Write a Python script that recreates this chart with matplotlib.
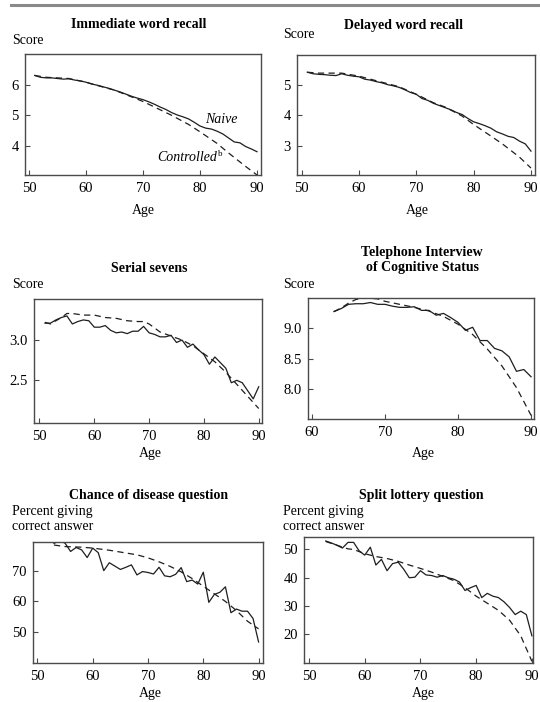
import matplotlib
matplotlib.use("Agg")
import matplotlib.pyplot as plt
from matplotlib.lines import Line2D

plt.rcParams["font.family"] = ["Liberation Serif", "DejaVu Serif"]
plt.rcParams["font.size"] = 10

W, H = 540, 702

# ---- values ----
ages_51 = list(range(51, 91))
ages_53 = list(range(53, 91))
ages_63 = list(range(63, 91))

imm_naive = [6.30, 6.24, 6.22, 6.22, 6.20, 6.18, 6.19, 6.15, 6.12, 6.08,
             6.02, 5.98, 5.93, 5.88, 5.82, 5.76, 5.69, 5.62, 5.56, 5.51,
             5.44, 5.36, 5.27, 5.19, 5.09, 5.01, 4.95, 4.88, 4.77, 4.65,
             4.58, 4.55, 4.48, 4.39, 4.26, 4.13, 4.10, 3.98, 3.90, 3.81]
imm_ctrl_age = [51, 53, 55, 57, 60, 63, 65, 68, 70, 73, 75, 78, 80, 83, 85, 88, 90]
imm_ctrl = [6.30, 6.24, 6.22, 6.20, 6.08, 5.92, 5.82, 5.60, 5.45, 5.18,
            5.00, 4.70, 4.46, 4.08, 3.77, 3.33, 3.05]

del_naive = [5.43, 5.38, 5.36, 5.35, 5.33, 5.32, 5.38, 5.33, 5.30, 5.28,
             5.20, 5.17, 5.12, 5.08, 5.02, 4.98, 4.93, 4.85, 4.76, 4.70,
             4.56, 4.50, 4.40, 4.33, 4.26, 4.19, 4.10, 4.03, 3.90, 3.79,
             3.73, 3.66, 3.58, 3.46, 3.39, 3.31, 3.27, 3.15, 3.06, 2.82]
del_ctrl_age = [51, 53, 55, 57, 60, 63, 65, 67, 70, 73, 75, 78, 80, 83, 85, 88, 90]
del_ctrl = [5.43, 5.40, 5.40, 5.40, 5.30, 5.15, 5.05, 4.95, 4.70, 4.42,
            4.28, 3.98, 3.70, 3.32, 3.06, 2.62, 2.26]

ser_naive = [3.21, 3.21, 3.25, 3.28, 3.30, 3.20, 3.23, 3.25, 3.24, 3.16,
             3.16, 3.18, 3.12, 3.09, 3.10, 3.08, 3.11, 3.11, 3.17, 3.09,
             3.07, 3.04, 3.04, 3.06, 2.97, 3.00, 2.91, 2.95, 2.88, 2.82,
             2.70, 2.79, 2.72, 2.65, 2.47, 2.50, 2.47, 2.37, 2.27, 2.42]
ser_ctrl_age = [51, 52, 53, 54, 55, 56, 58, 60, 62, 64, 66, 68, 69, 70, 72,
                74, 76, 78, 80, 82, 84, 86, 88, 90]
ser_ctrl = [3.22, 3.20, 3.24, 3.28, 3.33, 3.33, 3.31, 3.31, 3.28, 3.27, 3.24,
            3.23, 3.23, 3.20, 3.10, 3.05, 3.00, 2.93, 2.83, 2.73, 2.60, 2.45,
            2.30, 2.15]

tics_naive = [9.28, 9.33, 9.40, 9.41, 9.41, 9.43, 9.40, 9.40,
              9.37, 9.35, 9.35, 9.36, 9.30, 9.30, 9.22, 9.25, 9.18, 9.10,
              8.97, 9.02, 8.80, 8.80, 8.67, 8.63, 8.53, 8.29, 8.32, 8.20]
tics_ctrl_age = [63, 64, 65, 66, 67, 68, 69, 70, 72, 74, 76, 78, 80, 82, 84, 86, 88, 90]
tics_ctrl = [9.28, 9.34, 9.42, 9.48, 9.50, 9.50, 9.49, 9.45, 9.40, 9.35,
             9.29, 9.20, 9.07, 8.90, 8.66, 8.38, 8.02, 7.56]

dis_naive = [79.0, 80.0, 79.1, 76.4, 77.7, 76.9, 74.4, 77.5,
             76.0, 70.1, 72.7, 71.6, 70.5, 71.2, 72.0, 68.7, 69.8, 69.5,
             69.0, 71.2, 68.4, 68.1, 68.9, 71.1, 66.5, 67.0, 65.7, 69.6,
             59.7, 62.3, 63.0, 64.8, 56.3, 57.5, 56.8, 56.8, 54.4, 46.7]
dis_ctrl_age = [53, 55, 58, 60, 63, 65, 68, 70, 72, 74, 76, 78, 80, 82, 84, 86, 88, 90]
dis_ctrl = [78.5, 78.0, 77.8, 77.5, 76.8, 76.2, 75.3, 74.3, 73.0, 71.5,
            69.7, 67.5, 65.0, 62.5, 60.0, 57.0, 53.5, 51.0]

lot_naive = [53.0, 52.3, 51.5, 50.5, 52.5, 52.5, 49.5, 48.0,
             50.8, 44.5, 46.5, 42.5, 45.0, 45.5, 43.0, 40.0, 40.2, 42.5,
             41.0, 40.8, 40.2, 40.8, 40.0, 39.5, 38.5, 35.5, 36.5, 37.3,
             33.0, 34.5, 33.5, 33.0, 31.5, 29.5, 27.0, 28.2, 27.0, 19.5]
lot_ctrl_age = [53, 55, 57, 58, 60, 62, 64, 66, 68, 70, 72, 74, 76, 78, 80,
                82, 84, 86, 88, 89, 90]
lot_ctrl = [52.8, 51.5, 50.2, 50.0, 48.5, 47.5, 46.8, 45.8, 44.5, 43.3, 42.0,
            40.5, 39.0, 36.5, 33.5, 31.0, 28.5, 25.0, 19.5, 15.0, 10.5]

# ---- layout (pixel boxes: left, top, right, bottom) ----
panels = [
    dict(box=(25, 54, 261, 175), xlim=(49.3, 90.7), ylim=(3.05, 7.0),
         xt=[50, 60, 70, 80, 90], yt=[4, 5, 6], fmt="{:.0f}",
         title=[("Immediate word recall", 139, 25)], ylab=[("Score", 12, 41)],
         age=(143, 210), naive=(ages_51, imm_naive), ctrl=(imm_ctrl_age, imm_ctrl)),
    dict(box=(297, 55, 535, 175), xlim=(49.2, 90.7), ylim=(2.03, 6.0),
         xt=[50, 60, 70, 80, 90], yt=[3, 4, 5], fmt="{:.0f}",
         title=[("Delayed word recall", 403, 25)], ylab=[("Score", 283, 35)],
         age=(417, 210), naive=(ages_51, del_naive), ctrl=(del_ctrl_age, del_ctrl)),
    dict(box=(34, 299, 262, 423), xlim=(49.0, 90.6), ylim=(1.97, 3.51),
         xt=[50, 60, 70, 80, 90], yt=[2.5, 3.0], fmt="{:.1f}",
         title=[("Serial sevens", 149, 268)], ylab=[("Score", 12, 284)],
         age=(150, 453), naive=(ages_51, ser_naive), ctrl=(ser_ctrl_age, ser_ctrl)),
    dict(box=(308, 298, 534, 419), xlim=(59.45, 90.4), ylim=(7.5, 9.505),
         xt=[60, 70, 80, 90], yt=[8.0, 8.5, 9.0], fmt="{:.1f}",
         title=[("Telephone Interview", 422, 252), ("of Cognitive Status", 422, 268)],
         ylab=[("Score", 283, 284)],
         age=(423, 453), naive=(ages_63, tics_naive), ctrl=(tics_ctrl_age, tics_ctrl)),
    dict(box=(33, 542, 263, 663), xlim=(49.2, 90.8), ylim=(39.8, 79.5),
         xt=[50, 60, 70, 80, 90], yt=[50, 60, 70], fmt="{:.0f}",
         title=[("Chance of disease question", 149, 495)],
         ylab=[("Percent giving", 12, 512), ("correct answer", 12, 527)],
         age=(150, 694), naive=(ages_53, dis_naive), ctrl=(dis_ctrl_age, dis_ctrl)),
    dict(box=(304, 537, 533, 663), xlim=(49.1, 90.2), ylim=(9.9, 54.4),
         xt=[50, 60, 70, 80, 90], yt=[20, 30, 40, 50], fmt="{:.0f}",
         title=[("Split lottery question", 421, 495)],
         ylab=[("Percent giving", 283, 512), ("correct answer", 283, 527)],
         age=(423, 694), naive=(ages_53, lot_naive), ctrl=(lot_ctrl_age, lot_ctrl)),
]

LINE = "#1e1e1e"
FRAME = "#4a4a4a"

fig = plt.figure(figsize=(W / 100, H / 100), dpi=100)


def fx(px):
    return px / W


def fy(py):
    return 1 - py / H


# gray rule under the (cut) caption
fig.add_artist(Line2D([fx(11), fx(540)], [fy(5), fy(5)], color="#8a8a8a", lw=2.2))

axes = []
for p in panels:
    l, t, r, b = p["box"]
    ax = fig.add_axes([fx(l), fy(b), fx(r) - fx(l), fy(t) - fy(b)])
    ax.plot(*p["naive"], color=LINE, lw=0.9)
    ax.plot(*p["ctrl"], color=LINE, lw=0.9, dashes=(5, 3.5))
    ax.set_xlim(*p["xlim"])
    ax.set_ylim(*p["ylim"])
    ax.set_xticks(p["xt"])
    ax.set_xticklabels([str(v) for v in p["xt"]])
    ax.set_yticks(p["yt"])
    ax.set_yticklabels([p["fmt"].format(v) for v in p["yt"]])
    ax.tick_params(direction="in", length=3.5, width=0.8, color=FRAME,
                   labelsize=10.5, top=False, right=False)
    ax.tick_params(axis="x", pad=5)
    ax.tick_params(axis="y", pad=4.5)
    for s in ax.spines.values():
        s.set_color(FRAME)
        s.set_linewidth(1.0)
    for txt, x, y in p["title"]:
        fig.text(fx(x), fy(y), txt, ha="center", va="center", fontweight="bold")
    for txt, x, y in p["ylab"]:
        fig.text(fx(x), fy(y), txt, ha="left", va="center")
    fig.text(fx(p["age"][0]), fy(p["age"][1]), "Age", ha="center", va="center")
    axes.append(ax)

# labels for the two series in the first panel
ax0 = axes[0]
ax0.text(86.6, 4.87, "Naive", style="italic", ha="right", va="center", fontsize=10)
ax0.text(83.0, 3.62, "Controlled", style="italic", ha="right", va="center", fontsize=10)
ax0.text(83.2, 3.74, "b", ha="left", va="center", fontsize=6.5)

fig.savefig("out.png", dpi=100)
